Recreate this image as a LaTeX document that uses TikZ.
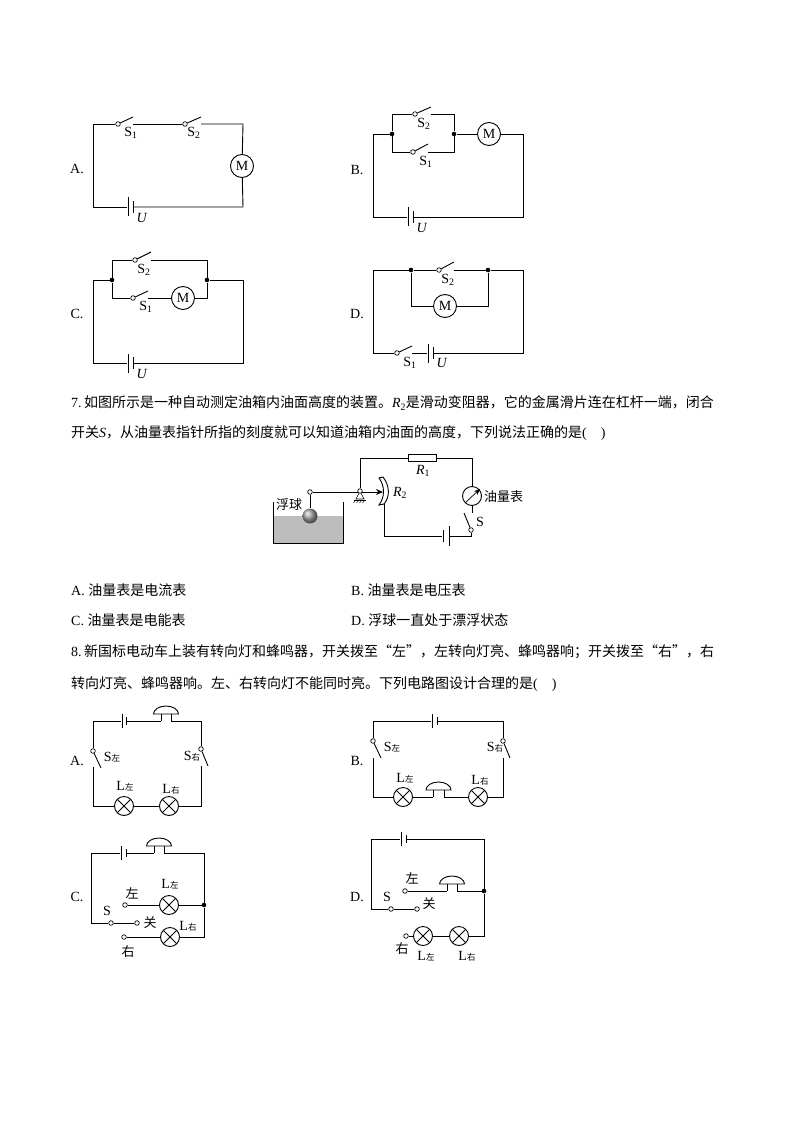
\documentclass[tikz,border=0pt]{standalone}
\usepackage{fontspec}
\setmainfont{Liberation Serif}
\newfontfamily\cjk{Noto Sans CJK SC}
\usetikzlibrary{calc,arrows.meta}
\newcommand{\sm}[1]{{\cjk\fontsize{8.5}{8.5}\selectfont #1}}
\newcommand{\num}[1]{\textsubscript{#1}}
\tikzset{
	wire/.style={line width=0.9pt},
	term/.style={circle,draw,line width=0.7pt,fill=white,inner sep=0pt,minimum size=4.6pt},
	junc/.style={circle,fill=black,inner sep=0pt,minimum size=4.6pt},
	motor/.style={circle,draw,line width=0.9pt,inner sep=0pt,minimum size=23pt,font=\fontsize{14}{14}\selectfont},
	lamp/.style={circle,draw,line width=0.9pt,inner sep=0pt,minimum size=19pt,
		path picture={\draw[line width=0.8pt] (path picture bounding box.north west) -- (path picture bounding box.south east) (path picture bounding box.north east) -- (path picture bounding box.south west);}},
	lbl/.style={inner sep=0pt,font=\fontsize{14}{14}\selectfont},
	zh/.style={inner sep=0pt,font=\cjk\fontsize{13}{13}\selectfont},
	line/.style={inner sep=0pt,anchor=west,font=\fontsize{14}{14}\selectfont}
}
% plates of a cell: size, name, long x, short x, y
\newcommand{\batt}[5][19]{
	\node[fill=black,inner sep=0pt,minimum width=1pt,minimum height=#1pt] (#2-l) at (#3,#5) {};
	\node[fill=black,inner sep=0pt,minimum width=1pt,minimum height=0.58*#1pt] (#2-s) at (#4,#5) {};
}
\newcommand{\swt}[5]{
	\node[term] (#1) at (#2,#3) {};
	\draw[wire] (#1) -- ++(#4,#5) coordinate (#1e);
}
% bell: name, left stem x, right stem x, wire y, base y
\newcommand{\bellnode}[5]{
	\coordinate (#1-l) at (#2,#4);
	\coordinate (#1-r) at (#3,#4);
	\coordinate (#1-tl) at (#2,#5);
	\coordinate (#1-tr) at (#3,#5);
	\coordinate (#1-c) at ($(#1-tl)!0.5!(#1-tr)$);
	\draw[wire] (#1-l) -- (#1-tl) (#1-r) -- (#1-tr);
	\draw[wire] ($(#1-c)+(-12.5,0)$) arc[start angle=180,end angle=360,x radius=12.5,y radius=8] -- cycle;
}
\begin{document}
\begin{tikzpicture}[x=1pt,y=-1pt]
		\useasboundingbox (0,0) rectangle (794,1123);
		% upper A
		\node[lbl] (a-n) at (77,169) {A.};
		\coordinate (a-tl) at (93,124);
		\coordinate (a-tr) at (243,124);
		\coordinate (a-bl) at (93,207);
		\coordinate (a-br) at (243,207);
		\swt{a-s1}{118}{124}{15}{-7}
		\swt{a-s2}{185}{124}{16}{-7}
		\node[motor] (a-m) at (242,166) {M};
		\batt{a-b}{128}{133}{207}
		\draw[wire] (a-b-l) -- (a-bl) -- (a-tl) -- (a-s1);
		\draw[wire] (a-s1e |- a-s1) -- (a-s2);
		\draw[wire] (a-s2e |- a-s2) -- (a-tr) -- (a-m);
		\draw[wire] (a-m) -- (a-br) -- (a-b-s);
		\node[lbl] (a-t1) at (131,133) {S\num{1}};
		\node[lbl] (a-t2) at (194,133) {S\num{2}};
		\node[lbl] (a-u) at (142,218) {\textit{U}};
		% upper B
		\node[lbl] (b-n) at (357,170) {B.};
		\coordinate (b-tl) at (373,134);
		\coordinate (b-tr) at (523,134);
		\coordinate (b-bl) at (373,217);
		\coordinate (b-br) at (523,217);
		\node[junc] (b-j1) at (392,134) {};
		\node[junc] (b-j2) at (454,134) {};
		\coordinate (b-u1) at (392,114);
		\coordinate (b-u2) at (454,114);
		\coordinate (b-d1) at (392,152);
		\coordinate (b-d2) at (454,152);
		\swt{b-s2}{415}{114}{16}{-7}
		\swt{b-s1}{413}{152}{15}{-8}
		\node[motor] (b-m) at (489,134) {M};
		\batt{b-b}{408}{413}{217}
		\draw[wire] (b-b-l) -- (b-bl) -- (b-tl) -- (b-j1);
		\draw[wire] (b-j1) -- (b-u1) -- (b-s2);
		\draw[wire] (b-s2e |- b-s2) -- (b-u2) -- (b-j2);
		\draw[wire] (b-j1) -- (b-d1) -- (b-s1);
		\draw[wire] (b-s1e |- b-s1) -- (b-d2) -- (b-j2);
		\draw[wire] (b-j2) -- (b-m);
		\draw[wire] (b-m) -- (b-tr) -- (b-br) -- (b-b-s);
		\node[lbl] (b-t2) at (424,124) {S\num{2}};
		\node[lbl] (b-t1) at (426,162) {S\num{1}};
		\node[lbl] (b-u) at (422,228) {\textit{U}};
		% upper C
		\node[lbl] (c-n) at (77,314) {C.};
		\coordinate (c-tl) at (93,280);
		\coordinate (c-tr) at (243,280);
		\coordinate (c-bl) at (93,363);
		\coordinate (c-br) at (243,363);
		\node[junc] (c-j1) at (112,280) {};
		\node[junc] (c-j2) at (207,280) {};
		\coordinate (c-u1) at (112,260);
		\coordinate (c-u2) at (207,260);
		\coordinate (c-d1) at (112,298);
		\coordinate (c-d2) at (207,298);
		\swt{c-s2}{135}{260}{16}{-8}
		\swt{c-s1}{133}{298}{15}{-7}
		\node[motor] (c-m) at (183,298) {M};
		\batt{c-b}{128}{133}{363}
		\draw[wire] (c-b-l) -- (c-bl) -- (c-tl) -- (c-j1);
		\draw[wire] (c-j1) -- (c-u1) -- (c-s2);
		\draw[wire] (c-s2e |- c-s2) -- (c-u2) -- (c-j2);
		\draw[wire] (c-j1) -- (c-d1) -- (c-s1);
		\draw[wire] (c-s1e |- c-s1) -- (c-m);
		\draw[wire] (c-m) -- (c-d2) -- (c-j2);
		\draw[wire] (c-j2) -- (c-tr) -- (c-br) -- (c-b-s);
		\node[lbl] (c-t2) at (144,270) {S\num{2}};
		\node[lbl] (c-t1) at (146,307) {S\num{1}};
		\node[lbl] (c-u) at (142,374) {\textit{U}};
		% upper D
		\node[lbl] (d-n) at (357,314) {D.};
		\coordinate (d-tl) at (373,270);
		\coordinate (d-tr) at (523,270);
		\coordinate (d-bl) at (373,353);
		\coordinate (d-br) at (523,353);
		\node[junc] (d-j1) at (411,270) {};
		\node[junc] (d-j2) at (488,270) {};
		\coordinate (d-d1) at (411,306);
		\coordinate (d-d2) at (488,306);
		\swt{d-s2}{439}{270}{15}{-8}
		\swt{d-s1}{397}{353}{15}{-7}
		\node[motor] (d-m) at (445,306) {M};
		\batt{d-b}{428}{433}{353}
		\draw[wire] (d-s1) -- (d-bl) -- (d-tl) -- (d-j1);
		\draw[wire] (d-j1) -- (d-s2);
		\draw[wire] (d-s2e |- d-s2) -- (d-j2);
		\draw[wire] (d-j2) -- (d-tr) -- (d-br) -- (d-b-s);
		\draw[wire] (d-s1e |- d-s1) -- (d-b-l);
		\draw[wire] (d-j1) -- (d-d1) -- (d-m);
		\draw[wire] (d-m) -- (d-d2) -- (d-j2);
		\node[lbl] (d-t2) at (448,280) {S\num{2}};
		\node[lbl] (d-t1) at (410,363) {S\num{1}};
		\node[lbl] (d-u) at (442,363) {\textit{U}};
		% question 7
		\node[line] (q7a) at (71,403) {7.\,{\cjk 如图所示是一种自动测定油箱内油面高度的装置。}\textit{R}\num{2}{\cjk 是滑动变阻器，它的金属滑片连在杠杆一端，闭合}};
		\node[line] (q7b) at (71,433) {{\cjk 开关}\textit{S}{\cjk ，从油量表指针所指的刻度就可以知道油箱内油面的高度，下列说法正确的是}(\quad)};
		\fill[black!26] (273,516) rectangle (343,543);
		\draw[wire] (273,502) -- (273,543) -- (343,543) -- (343,502);
		\node[zh] (f-fq) at (289,505) {浮球};
		\node[term] (f-arm) at (310,492) {};
		\node[circle,shading=ball,ball color=black!35,inner sep=0pt,minimum size=15pt] (f-ball) at (310,516) {};
		\draw[wire] (f-arm) -- (f-ball);
		\coordinate (f-tip) at (383,492);
		\draw[wire,-{Stealth[length=7pt,width=6pt]}] (f-arm) -- (f-tip);
		\draw[wire,fill=white] (379,478) .. controls (385,486) and (385,497) .. (379,505) -- (384,504) .. controls (390,497) and (390,486) .. (383,477) -- cycle;
		\coordinate (f-rb) at (384,504);
		\coordinate (f-dl) at (384,536);
		\coordinate (f-dr) at (471,536);
		\node[term] (f-s) at (471,530) {};
		\coordinate (f-se) at (464,513);
		\coordinate (f-mb) at (472,513);
		\draw[wire] (f-s) -- (f-se);
		\batt[20]{f-b}{449}{443}{536}
		\draw[wire] (f-rb) -- (f-dl) -- (f-b-s);
		\draw[wire] (f-b-l) -- (f-dr) -- (f-s);
		\coordinate (f-p1) at (356,499);
		\coordinate (f-p2) at (364,499);
		\node[term] (f-piv) at (360,491) {};
		\draw[line width=0.6pt] (f-piv) -- (f-p1) -- (f-p2) -- (f-piv);
		\draw[line width=0.6pt] (354,500) -- (366,500);
		\foreach \hx in {356,359,362,365}
			\draw[line width=0.4pt] (\hx,500) -- ++(-2.5,3);
		\coordinate (f-tl) at (360,458);
		\coordinate (f-tr) at (472,458);
		\node[draw,line width=0.9pt,fill=white,inner sep=0pt,minimum width=28pt,minimum height=7.5pt] (f-r1) at (422,458) {};
		\node[circle,draw,line width=0.9pt,inner sep=0pt,minimum size=19pt] (f-m) at (472,496) {};
		\draw[wire] (f-piv) -- (f-tl) -- (f-r1);
		\draw[wire] (f-r1) -- (f-tr) -- (f-m);
		\draw[wire] (f-m) -- (f-mb);
		\coordinate (f-ma) at (465,503);
		\coordinate (f-mz) at (480,489);
		\draw[line width=0.7pt,-{Stealth[length=6pt,width=5pt]}] (f-ma) -- (f-mz);
		\node[lbl] (f-t1) at (423,471) {\textit{R}\num{1}};
		\node[lbl] (f-t2) at (400,493) {\textit{R}\num{2}};
		\node[lbl] (f-ts) at (480,522) {S};
		\node[zh,anchor=west] (f-y) at (484,497) {油量表};
		\node[line] (o7a) at (71,590) {A. {\cjk 油量表是电流表}};
		\node[line] (o7b) at (351,590) {B. {\cjk 油量表是电压表}};
		\node[line] (o7c) at (71,620) {C. {\cjk 油量表是电能表}};
		\node[line] (o7d) at (351,620) {D. {\cjk 浮球一直处于漂浮状态}};
		% question 8
		\node[line] (q8a) at (71,652) {8.\,{\cjk 新国标电动车上装有转向灯和蜂鸣器，开关拨至“左”，左转向灯亮、蜂鸣器响；开关拨至“右”，右}};
		\node[line] (q8b) at (71,684) {{\cjk 转向灯亮、蜂鸣器响。左、右转向灯不能同时亮。下列电路图设计合理的是}(\quad)};
		% lower A
		\node[lbl] (e-n) at (77,761) {A.};
		\coordinate (e-tl) at (93,721);
		\coordinate (e-tr) at (201,721);
		\coordinate (e-bl) at (93,806);
		\coordinate (e-br) at (201,806);
		\coordinate (e-r1) at (93,767);
		\coordinate (e-r2) at (201,766);
		\batt[14]{e-b}{122}{126}{721}
		\bellnode{e-h}{161}{171}{721}{714}
		\swt{e-s1}{93}{751}{8}{17}
		\swt{e-s2}{201}{749}{7}{17}
		\node[lamp] (e-l1) at (124,806) {};
		\node[lamp] (e-l2) at (169,806) {};
		\draw[wire] (e-b-l) -- (e-tl) -- (e-s1);
		\draw[wire] (e-b-s) -- (e-h-l);
		\draw[wire] (e-h-r) -- (e-tr) -- (e-s2);
		\draw[wire] (e-r1) -- (e-bl) -- (e-l1);
		\draw[wire] (e-l1) -- (e-l2);
		\draw[wire] (e-l2) -- (e-br) -- (e-r2);
		\node[lbl] (e-t1) at (112,757) {S\sm{左}};
		\node[lbl] (e-t2) at (192,756) {S\sm{右}};
		\node[lbl] (e-t3) at (125,786) {L\sm{左}};
		\node[lbl] (e-t4) at (171,789) {L\sm{右}};
		% lower B
		\node[lbl] (f2-n) at (357,761) {B.};
		\coordinate (g-tl) at (373,721);
		\coordinate (g-tr) at (503,721);
		\coordinate (g-bl) at (373,797);
		\coordinate (g-br) at (503,797);
		\coordinate (g-r1) at (373,758);
		\coordinate (g-r2) at (503,758);
		\batt[14]{g-b}{432}{437}{721}
		\bellnode{g-h}{433}{444}{797}{790}
		\swt{g-s1}{373}{741}{8}{17}
		\swt{g-s2}{503}{741}{7}{17}
		\node[lamp] (g-l1) at (403,797) {};
		\node[lamp] (g-l2) at (478,797) {};
		\draw[wire] (g-b-l) -- (g-tl) -- (g-s1);
		\draw[wire] (g-b-s) -- (g-tr) -- (g-s2);
		\draw[wire] (g-r1) -- (g-bl) -- (g-l1);
		\draw[wire] (g-l1) -- (g-h-l);
		\draw[wire] (g-h-r) -- (g-l2);
		\draw[wire] (g-l2) -- (g-br) -- (g-r2);
		\node[lbl] (g-t1) at (392,747) {S\sm{左}};
		\node[lbl] (g-t2) at (495,747) {S\sm{右}};
		\node[lbl] (g-t3) at (405,778) {L\sm{左}};
		\node[lbl] (g-t4) at (480,780) {L\sm{右}};
		% lower C
		\node[lbl] (h-n) at (77,897) {C.};
		\coordinate (h-tl) at (91,853);
		\coordinate (h-tr) at (204,853);
		\coordinate (h-bl) at (91,923);
		\coordinate (h-br) at (204,937);
		\node[junc] (h-j) at (204,905) {};
		\batt[14]{h-b}{121}{126}{853}
		\bellnode{h-h}{154}{164}{853}{846}
		\node[term] (h-s) at (111,923) {};
		\node[term] (h-g) at (137,923) {};
		\node[term] (h-z) at (125,905) {};
		\node[term] (h-y) at (124,937) {};
		\node[lamp] (h-l1) at (169,905) {};
		\node[lamp] (h-l2) at (170,937) {};
		\draw[wire] (h-b-l) -- (h-tl) -- (h-bl) -- (h-s);
		\draw[wire] (h-s) -- (h-g);
		\draw[wire] (h-b-s) -- (h-h-l);
		\draw[wire] (h-h-r) -- (h-tr) -- (h-j);
		\draw[wire] (h-z) -- (h-l1);
		\draw[wire] (h-l1) -- (h-j);
		\draw[wire] (h-y) -- (h-l2);
		\draw[wire] (h-l2) -- (h-br) -- (h-j);
		\node[zh] (h-t1) at (132,893) {左};
		\node[zh] (h-t2) at (150,923) {关};
		\node[zh] (h-t3) at (128,952) {右};
		\node[lbl] (h-t4) at (107,911) {S};
		\node[lbl] (h-t5) at (170,884) {L\sm{左}};
		\node[lbl] (h-t6) at (188,926) {L\sm{右}};
		% lower D
		\node[lbl] (k-n) at (357,897) {D.};
		\coordinate (k-tl) at (371,839);
		\coordinate (k-tr) at (484,839);
		\coordinate (k-bl) at (371,909);
		\coordinate (k-br) at (484,936);
		\node[junc] (k-j) at (484,891) {};
		\batt[14]{k-b}{401}{406}{839}
		\bellnode{k-h}{447}{457}{891}{884}
		\node[term] (k-s) at (391,909) {};
		\node[term] (k-g) at (417,909) {};
		\node[term] (k-z) at (405,891) {};
		\node[term] (k-y) at (406,936) {};
		\node[lamp] (k-l1) at (423,936) {};
		\node[lamp] (k-l2) at (459,936) {};
		\draw[wire] (k-b-l) -- (k-tl) -- (k-bl) -- (k-s);
		\draw[wire] (k-s) -- (k-g);
		\draw[wire] (k-b-s) -- (k-tr) -- (k-j);
		\draw[wire] (k-z) -- (k-h-l);
		\draw[wire] (k-h-r) -- (k-j);
		\draw[wire] (k-j) -- (k-br) -- (k-l2);
		\draw[wire] (k-l2) -- (k-l1);
		\draw[wire] (k-l1) -- (k-y);
		\node[zh] (k-t1) at (412,878) {左};
		\node[zh] (k-t2) at (429,904) {关};
		\node[zh] (k-t3) at (402,949) {右};
		\node[lbl] (k-t4) at (387,897) {S};
		\node[lbl] (k-t5) at (426,956) {L\sm{左}};
		\node[lbl] (k-t6) at (467,956) {L\sm{右}};
		\end{tikzpicture}
\end{document}
